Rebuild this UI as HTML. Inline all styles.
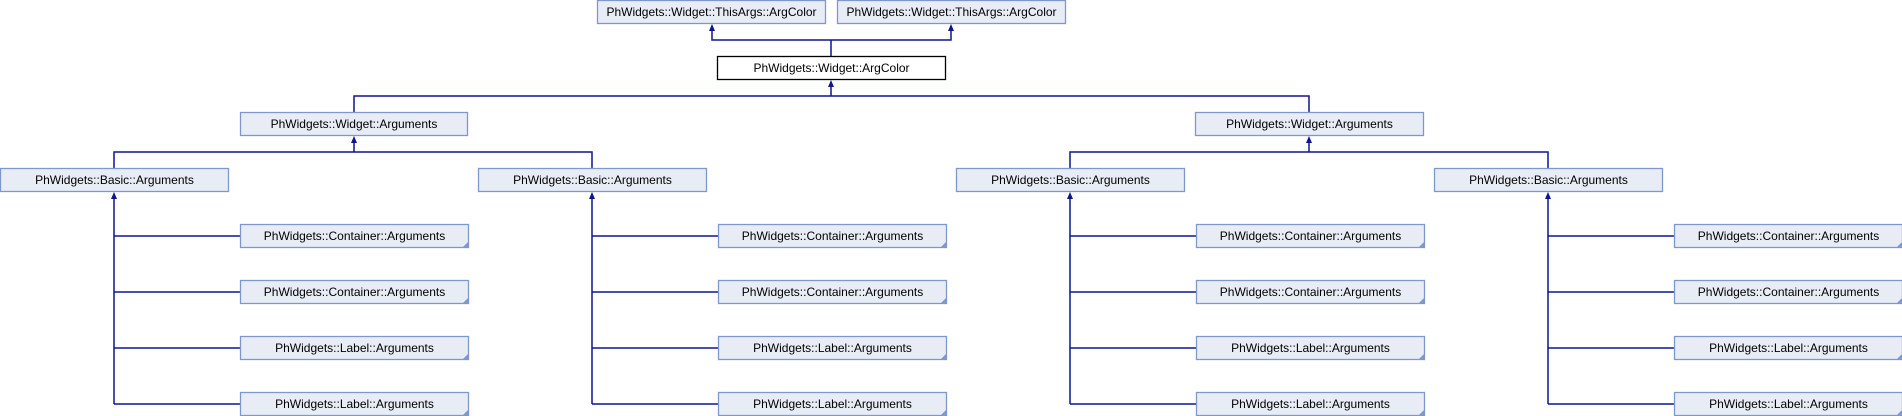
<!DOCTYPE html>
<html><head><meta charset="utf-8"><style>
html,body{margin:0;padding:0;background:#fff;}
svg{display:block;}
text{font-family:"Liberation Sans",Arial,sans-serif;font-size:12px;fill:#000;}
.b{fill:#e8ecf5;stroke:#7f98cc;stroke-width:1.3;}
.m{fill:#fff;stroke:#000;stroke-width:1.3;}
.l{stroke:#0e1591;stroke-width:1.5;fill:none;}
.a{fill:#0e1591;}
.c{fill:#7f98cc;}
</style></head><body>
<svg width="1902" height="416" viewBox="0 0 1902 416" xmlns="http://www.w3.org/2000/svg">
<g class="l">
<path d="M712,28 V40 H951 V28 M831,40 V56"/>
<path d="M831,84 V96 H354 V112 M831,96 H1309 V112"/>
<path d="M354,140 V152 H114 V168 M354,152 H592 V168"/>
<path d="M1309,140 V152 H1070 V168 M1309,152 H1548 V168"/>
<path d="M114,196 V404 M114,236 H240 M114,292 H240 M114,348 H240 M114,404 H240"/>
<path d="M592,196 V404 M592,236 H718 M592,292 H718 M592,348 H718 M592,404 H718"/>
<path d="M1070,196 V404 M1070,236 H1196 M1070,292 H1196 M1070,348 H1196 M1070,404 H1196"/>
<path d="M1548,196 V404 M1548,236 H1674 M1548,292 H1674 M1548,348 H1674 M1548,404 H1674"/>
</g>
<g class="a">
<path d="M712,24 l-3,7 h6z"/><path d="M951,24 l-3,7 h6z"/>
<path d="M831,80 l-3,7 h6z"/>
<path d="M354,136 l-3,7 h6z"/><path d="M1309,136 l-3,7 h6z"/>
<path d="M114,192 l-3,7 h6z"/><path d="M592,192 l-3,7 h6z"/><path d="M1070,192 l-3,7 h6z"/><path d="M1548,192 l-3,7 h6z"/>
</g>
<rect class="b" x="597.5" y="0.5" width="228" height="23"/><text x="711.5" y="16" text-anchor="middle">PhWidgets::Widget::ThisArgs::ArgColor</text>
<rect class="b" x="837.5" y="0.5" width="228" height="23"/><text x="951.5" y="16" text-anchor="middle">PhWidgets::Widget::ThisArgs::ArgColor</text>
<rect class="m" x="717.5" y="56.5" width="228" height="23"/><text x="831.5" y="72" text-anchor="middle">PhWidgets::Widget::ArgColor</text>
<rect class="b" x="240.5" y="112.5" width="227" height="23"/><text x="354" y="128" text-anchor="middle">PhWidgets::Widget::Arguments</text>
<rect class="b" x="1195.5" y="112.5" width="228" height="23"/><text x="1309.5" y="128" text-anchor="middle">PhWidgets::Widget::Arguments</text>
<rect class="b" x="0.5" y="168.5" width="228" height="23"/><text x="114.5" y="184" text-anchor="middle">PhWidgets::Basic::Arguments</text>
<rect class="b" x="478.5" y="168.5" width="228" height="23"/><text x="592.5" y="184" text-anchor="middle">PhWidgets::Basic::Arguments</text>
<rect class="b" x="956.5" y="168.5" width="228" height="23"/><text x="1070.5" y="184" text-anchor="middle">PhWidgets::Basic::Arguments</text>
<rect class="b" x="1434.5" y="168.5" width="228" height="23"/><text x="1548.5" y="184" text-anchor="middle">PhWidgets::Basic::Arguments</text>
<g id="col">
<rect class="b" x="240.5" y="224.5" width="228" height="23"/><text x="354.5" y="240" text-anchor="middle">PhWidgets::Container::Arguments</text><path class="c" d="M468,242 v5 h-5z"/>
<rect class="b" x="240.5" y="280.5" width="228" height="23"/><text x="354.5" y="296" text-anchor="middle">PhWidgets::Container::Arguments</text><path class="c" d="M468,298 v5 h-5z"/>
<rect class="b" x="240.5" y="336.5" width="228" height="23"/><text x="354.5" y="352" text-anchor="middle">PhWidgets::Label::Arguments</text><path class="c" d="M468,354 v5 h-5z"/>
<rect class="b" x="240.5" y="392.5" width="228" height="23"/><text x="354.5" y="408" text-anchor="middle">PhWidgets::Label::Arguments</text><path class="c" d="M468,410 v5 h-5z"/>
</g>
<use href="#col" x="478"/>
<use href="#col" x="956"/>
<use href="#col" x="1434"/>
</svg>
</body></html>
